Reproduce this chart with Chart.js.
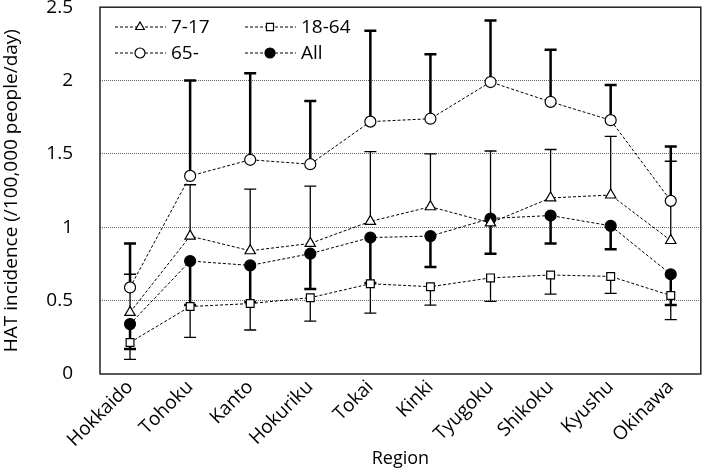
<!DOCTYPE html>
<html>
<head>
<meta charset="utf-8">
<script src="https://cdn.jsdelivr.net/npm/chart.js@4.4.1/dist/chart.umd.min.js"></script>
<style>
    body { margin: 0; background: #fff; }
    #wrap { width: 708px; height: 470px; }
</style>
</head>
<body>
<div id="wrap"><canvas id="hatChart"></canvas></div>
<script>
// Regions on the x axis
const regions = ['Hokkaido', 'Tohoku', 'Kanto', 'Hokuriku', 'Tokai', 'Kinki', 'Tyugoku', 'Shikoku', 'Kyushu', 'Okinawa'];

// Incidence per age group
const age7to17 = [0.42, 0.94, 0.84, 0.89, 1.04, 1.14, 1.03, 1.20, 1.22, 0.91];
const age7to17Upper = [0.68, 1.29, 1.26, 1.28, 1.515, 1.50, 1.52, 1.53, 1.62, 1.45];

const age18to64 = [0.215, 0.46, 0.48, 0.52, 0.615, 0.595, 0.655, 0.675, 0.665, 0.535];
const age18to64Lower = [0.10, 0.25, 0.30, 0.36, 0.415, 0.47, 0.495, 0.545, 0.55, 0.37];

const age65plus = [0.59, 1.35, 1.46, 1.43, 1.72, 1.74, 1.99, 1.855, 1.73, 1.18];
const age65plusUpper = [0.89, 2.0, 2.05, 1.86, 2.34, 2.18, 2.41, 2.21, 1.97, 1.55];

const allAges = [0.34, 0.77, 0.74, 0.82, 0.93, 0.94, 1.06, 1.08, 1.01, 0.68];
const allAgesLower = [0.17, 0.47, 0.49, 0.58, 0.62, 0.73, 0.82, 0.89, 0.85, 0.47];

// Y axis ticks
const yTicks = [0, 0.5, 1, 1.5, 2, 2.5];

const FONT = "'Open Sans', 'Noto Sans', sans-serif";

function series(label, data, style, filled, err, errWidth) {
    return {
        label: label,
        data: data,
        borderColor: '#000',
        borderWidth: 1,
        borderDash: [3, 2],
        pointStyle: style,
        pointRadius: style === 'triangle' ? 6 : 5.5,
        pointHoverRadius: 6,
        pointBorderWidth: 1.2,
        pointBorderColor: '#000',
        pointBackgroundColor: filled ? '#000' : '#fff',
        tension: 0,
        errorEnd: err,
        errorWidth: errWidth
    };
}

// Draw one-sided error bars behind the markers
const errorBars = {
    id: 'errorBars',
    beforeDatasetsDraw(chart) {
        const ctx = chart.ctx;
        const y = chart.scales.y;
        ctx.save();
        ctx.strokeStyle = '#000';
        chart.data.datasets.forEach((ds, i) => {
            const meta = chart.getDatasetMeta(i);
            ctx.lineWidth = ds.errorWidth;
            meta.data.forEach((pt, j) => {
                const y0 = y.getPixelForValue(ds.data[j]);
                const y1 = y.getPixelForValue(ds.errorEnd[j]);
                ctx.beginPath();
                ctx.moveTo(pt.x, y0);
                ctx.lineTo(pt.x, y1);
                ctx.moveTo(pt.x - 6, y1);
                ctx.lineTo(pt.x + 6, y1);
                ctx.stroke();
            });
        });
        ctx.restore();
    }
};

// Box round the plot area and legend inside it
const frameAndLegend = {
    id: 'frameAndLegend',
    afterDraw(chart) {
        const ctx = chart.ctx;
        const a = chart.chartArea;
        ctx.save();
        ctx.strokeStyle = '#222';
        ctx.lineWidth = 1.5;
        ctx.strokeRect(a.left, a.top, a.right - a.left, a.bottom - a.top);

        const spots = [
            { x: 115, y: 27 }, { x: 245, y: 27 },
            { x: 115, y: 53 }, { x: 245, y: 53 }
        ];
        chart.data.datasets.forEach((ds, i) => {
            const s = spots[i];
            ctx.lineWidth = 1;
            ctx.setLineDash([3, 2]);
            ctx.strokeStyle = '#000';
            ctx.beginPath();
            ctx.moveTo(s.x, s.y);
            ctx.lineTo(s.x + 51, s.y);
            ctx.stroke();
            ctx.setLineDash([]);
            ctx.fillStyle = ds.pointBackgroundColor;
            ctx.lineWidth = 1.2;
            Chart.helpers.drawPoint(ctx, {
                pointStyle: ds.pointStyle,
                radius: 5,
                rotation: 0,
                borderWidth: 1.2
            }, s.x + 25, s.y);
            ctx.fillStyle = '#000';
            ctx.font = '19px ' + FONT;
            ctx.textBaseline = 'middle';
            ctx.textAlign = 'left';
            ctx.fillText(ds.label, s.x + 56, s.y + 1);
        });
        ctx.restore();
    }
};

const hatChart = new Chart(document.getElementById('hatChart').getContext('2d'), {
    type: 'line',
    data: {
        labels: regions,
        datasets: [
            series('7-17', age7to17, 'triangle', false, age7to17Upper, 1.3),
            series('18-64', age18to64, 'rect', false, age18to64Lower, 1.3),
            series('65-', age65plus, 'circle', false, age65plusUpper, 2.5),
            series('All', allAges, 'circle', true, allAgesLower, 2.5)
        ]
    },
    options: {
        responsive: true,
        maintainAspectRatio: false,
        animation: false,
        layout: { padding: { top: 7, right: 1, left: 0, bottom: 0 } },
        plugins: {
            legend: { display: false },
            tooltip: { enabled: false }
        },
        scales: {
            x: {
                offset: true,
                grid: { display: false, drawTicks: false },
                border: { display: false },
                ticks: {
                    color: '#000',
                    font: { family: FONT, size: 19 },
                    minRotation: 45,
                    maxRotation: 45,
                    padding: 2
                },
                title: {
                    display: true,
                    text: 'Region',
                    color: '#000',
                    font: { family: FONT, size: 18 },
                    padding: { top: 0, bottom: 0 }
                },
                afterFit(scale) {
                    scale.height = 96;
                    scale.paddingLeft = 0;
                    scale.paddingRight = 0;
                }
            },
            y: {
                min: 0,
                max: 2.5,
                afterBuildTicks(scale) { scale.ticks = yTicks.map(v => ({ value: v })); },
                grid: {
                    drawTicks: false,
                    color: ctx => (ctx.tick.value === 0 || ctx.tick.value === 2.5) ? 'rgba(0,0,0,0)' : '#666',
                    lineWidth: 1
                },
                border: { display: false, dash: [1, 1] },
                ticks: {
                    color: '#000',
                    font: { family: FONT, size: 19 },
                    padding: 27,
                    callback: v => String(v)
                },
                title: {
                    display: true,
                    text: 'HAT incidence (/100,000 people/day)',
                    color: '#000',
                    font: { family: FONT, size: 19 },
                    padding: { top: 0, bottom: 0 }
                },
                afterFit(scale) {
                    scale.width = 100;
                    scale.paddingTop = 0;
                    scale.paddingBottom = 0;
                }
            }
        }
    },
    plugins: [errorBars, frameAndLegend]
});
</script>
</body>
</html>
